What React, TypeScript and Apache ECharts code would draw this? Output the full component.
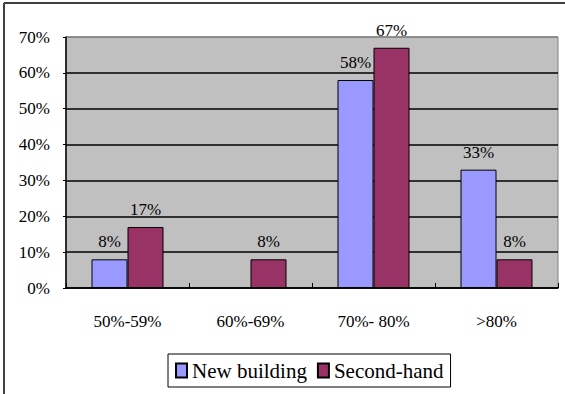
import React, { useEffect, useRef } from "react";
import * as echarts from "echarts";

// Share of purchases by price-to-income band
const categories = ["50%-59%", "60%-69%", "70%- 80%", ">80%"];
const newBuilding: (number | null)[] = [8, null, 58, 33];
const secondHand: (number | null)[] = [17, 8, 67, 8];
const yTicks = { min: 0, max: 70, interval: 10 };

const SERIF = "Liberation Serif";

export default function App() {
  const ref = useRef<HTMLDivElement>(null);

  useEffect(() => {
    if (!ref.current) return;
    const chart = echarts.init(ref.current, null, { renderer: "svg" });

    const labelCfg = {
      show: true,
      position: "top" as const,
      distance: 9,
      formatter: "{c}%",
      color: "#000",
      fontFamily: SERIF,
      fontSize: 17,
    };

    chart.setOption({
      animation: false,
      backgroundColor: "#fff",
      textStyle: { fontFamily: SERIF },
      grid: {
        left: 66,
        top: 37,
        right: 7,
        bottom: 106,
        show: true,
        backgroundColor: "#c0c0c0",
        borderColor: "#808080",
        borderWidth: 1,
      },
      legend: {
        left: 168,
        top: 354,
        orient: "horizontal",
        icon: "rect",
        itemWidth: 11,
        itemHeight: 14,
        itemGap: 10,
        padding: [6, 7, 6, 7],
        borderColor: "#000",
        borderWidth: 1,
        textStyle: { fontFamily: SERIF, fontSize: 21, color: "#000" },
        data: ["New building", "Second-hand"],
      },
      xAxis: {
        type: "category",
        data: categories,
        axisLine: { show: true, lineStyle: { color: "#000", width: 1.5 } },
        axisTick: { show: true, inside: true, length: 5, lineStyle: { color: "#000" } },
        axisLabel: {
          color: "#000",
          fontFamily: SERIF,
          fontSize: 17,
          margin: 25,
        },
        splitLine: { show: false },
      },
      yAxis: {
        type: "value",
        min: yTicks.min,
        max: yTicks.max,
        interval: yTicks.interval,
        axisLine: { show: true, lineStyle: { color: "#000", width: 1.5 } },
        axisTick: { show: true, length: 3, lineStyle: { color: "#000" } },
        axisLabel: {
          formatter: "{value}%",
          color: "#000",
          fontFamily: SERIF,
          fontSize: 17,
          margin: 16,
        },
        splitLine: {
          show: true,
          lineStyle: {
            color: ["#000", "#000", "#000", "#000", "#000", "#000", "#000", "#808080"],
            width: 1.5,
          },
        },
      },
      series: [
        {
          name: "New building",
          type: "bar",
          data: newBuilding,
          barWidth: 36,
          barGap: "0%",
          itemStyle: { color: "#9999ff", borderColor: "#000", borderWidth: 1 },
          label: labelCfg,
        },
        {
          name: "Second-hand",
          type: "bar",
          data: secondHand,
          barWidth: 36,
          barGap: "0%",
          itemStyle: { color: "#993366", borderColor: "#000", borderWidth: 1 },
          label: labelCfg,
        },
      ],
      graphic: [
        {
          type: "line",
          shape: { x1: 4, y1: 3, x2: 565, y2: 3 },
          style: { stroke: "#404040", lineWidth: 2 },
        },
        {
          type: "line",
          shape: { x1: 4, y1: 3, x2: 4, y2: 394 },
          style: { stroke: "#404040", lineWidth: 2 },
        },
      ],
    });

    return () => chart.dispose();
  }, []);

  return (
    <div
      ref={ref}
      style={{ position: "fixed", left: 0, top: 0, width: 565, height: 394 }}
    />
  );
}
